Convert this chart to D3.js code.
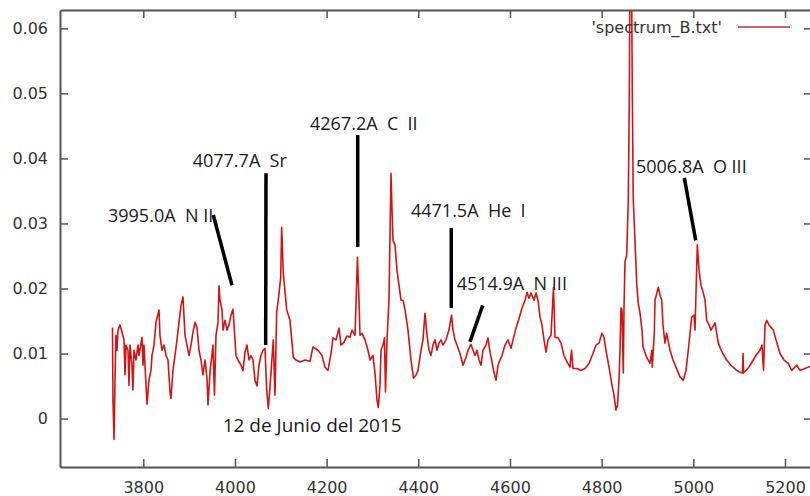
<!DOCTYPE html>
<html>
<head>
<meta charset="utf-8">
<script src="https://cdn.jsdelivr.net/npm/d3@7"></script>
<style>
body { margin: 0; background: #fff; }
svg { display: block; }
</style>
</head>
<body>
<svg id="chart" width="810" height="496"></svg>
<script>
/* spectrum plot, gnuplot look, with hand drawn line marks */

// wavelength (A), flux
var spectrum = [
  [3732.8,0.0140],[3733.9,0.0028],[3736.1,-0.0032],[3738.3,0.0059],[3740.4,0.0128],[3742.6,0.0105],
  [3744.8,0.0136],[3749.2,0.0144],[3753.5,0.0133],[3757.9,0.0121],[3760.1,0.0067],[3762.2,0.0113],
  [3766.6,0.0105],[3768.8,0.0051],[3771.0,0.0113],[3775.3,0.0082],[3777.5,0.0044],[3779.7,0.0105],
  [3784.1,0.0090],[3788.4,0.0113],[3790.6,0.0097],[3797.2,0.0125],[3799.3,0.0082],[3801.5,0.0113],
  [3805.9,0.0051],[3808.1,0.0022],[3812.4,0.0059],[3816.8,0.0074],[3819.0,0.0097],[3823.3,0.0113],
  [3827.7,0.0148],[3834.3,0.0167],[3836.4,0.0128],[3840.8,0.0105],[3845.2,0.0113],[3849.5,0.0097],
  [3853.9,0.0090],[3858.3,0.0041],[3860.4,0.0031],[3864.8,0.0074],[3869.2,0.0097],[3873.5,0.0121],
  [3877.9,0.0148],[3882.3,0.0174],[3886.6,0.0187],[3891.0,0.0128],[3895.3,0.0113],[3899.7,0.0097],
  [3904.1,0.0113],[3908.4,0.0133],[3912.8,0.0148],[3917.2,0.0140],[3921.5,0.0105],[3925.9,0.0090],
  [3930.2,0.0067],[3934.6,0.0090],[3939.0,0.0062],[3941.2,0.0021],[3945.5,0.0071],[3952.1,0.0113],
  [3955.3,0.0036],[3958.6,0.0128],[3963.0,0.0148],[3965.2,0.0204],[3967.3,0.0182],[3971.7,0.0167],
  [3973.9,0.0136],[3978.2,0.0151],[3982.6,0.0136],[3987.0,0.0144],[3991.3,0.0159],[3995.7,0.0168],
  [4000.1,0.0121],[4002.2,0.0097],[4006.6,0.0090],[4013.2,0.0082],[4017.5,0.0074],[4021.9,0.0102],
  [4026.2,0.0113],[4030.6,0.0090],[4035.0,0.0097],[4039.3,0.0090],[4043.7,0.0059],[4048.1,0.0050],
  [4052.4,0.0082],[4056.8,0.0097],[4061.2,0.0105],[4065.5,0.0108],[4069.2,0.0044],[4072.7,0.0016],
  [4076.4,0.0048],[4083.6,0.0121],[4087.3,0.0036],[4091.0,0.0164],[4094.5,0.0182],[4099.8,0.0217],
  [4101.9,0.0294],[4105.4,0.0224],[4112.9,0.0167],[4120.1,0.0151],[4127.3,0.0094],[4133.1,0.0090],
  [4141.9,0.0087],[4152.8,0.0090],[4163.7,0.0088],[4170.2,0.0110],[4181.1,0.0105],[4189.9,0.0097],
  [4196.4,0.0079],[4203.0,0.0074],[4209.5,0.0100],[4213.9,0.0124],[4220.4,0.0121],[4227.0,0.0139],
  [4231.3,0.0113],[4237.9,0.0117],[4244.4,0.0127],[4251.0,0.0125],[4255.3,0.0136],[4261.9,0.0128],
  [4267.3,0.0248],[4270.6,0.0182],[4272.8,0.0128],[4277.1,0.0131],[4283.7,0.0121],[4290.2,0.0105],
  [4294.6,0.0090],[4301.1,0.0097],[4305.5,0.0070],[4309.9,0.0028],[4312.7,0.0017],[4316.4,0.0051],
  [4318.6,0.0105],[4323.0,0.0113],[4326.2,0.0124],[4328.4,0.0041],[4331.7,0.0121],[4336.0,0.0182],
  [4340.4,0.0377],[4342.6,0.0321],[4344.8,0.0274],[4349.1,0.0267],[4353.5,0.0228],[4357.9,0.0205],
  [4362.2,0.0182],[4366.6,0.0182],[4371.0,0.0167],[4377.5,0.0136],[4384.0,0.0090],[4389.5,0.0062],
  [4395.0,0.0067],[4399.3,0.0074],[4405.9,0.0105],[4410.2,0.0121],[4414.6,0.0162],[4419.0,0.0128],
  [4423.3,0.0105],[4427.7,0.0097],[4432.0,0.0113],[4436.4,0.0121],[4440.8,0.0105],[4445.1,0.0116],
  [4449.5,0.0121],[4453.9,0.0113],[4460.4,0.0121],[4466.9,0.0136],[4472.4,0.0159],[4475.7,0.0136],
  [4480.0,0.0121],[4484.4,0.0113],[4490.9,0.0100],[4497.5,0.0082],[4504.0,0.0094],[4508.4,0.0105],
  [4514.9,0.0114],[4519.3,0.0105],[4523.7,0.0097],[4528.0,0.0105],[4532.4,0.0090],[4536.8,0.0082],
  [4541.1,0.0105],[4547.7,0.0113],[4552.0,0.0124],[4556.4,0.0102],[4560.8,0.0087],[4565.1,0.0071],
  [4569.5,0.0059],[4573.9,0.0082],[4578.2,0.0090],[4582.6,0.0097],[4589.1,0.0113],[4595.7,0.0121],
  [4602.2,0.0108],[4606.6,0.0121],[4613.1,0.0139],[4619.7,0.0154],[4626.2,0.0170],[4632.8,0.0182],
  [4637.1,0.0194],[4641.5,0.0185],[4645.8,0.0193],[4652.4,0.0182],[4656.8,0.0193],[4661.1,0.0182],
  [4665.5,0.0156],[4669.8,0.0144],[4674.2,0.0121],[4678.6,0.0102],[4682.9,0.0121],[4689.5,0.0128],
  [4694.9,0.0202],[4698.2,0.0125],[4704.8,0.0124],[4711.3,0.0116],[4717.8,0.0097],[4724.4,0.0087],
  [4730.9,0.0079],[4734.2,0.0105],[4737.5,0.0077],[4746.2,0.0077],[4754.9,0.0074],[4763.7,0.0077],
  [4772.4,0.0085],[4781.1,0.0100],[4787.7,0.0113],[4794.2,0.0116],[4800.7,0.0131],[4805.1,0.0125],
  [4809.5,0.0105],[4816.0,0.0079],[4822.6,0.0051],[4826.9,0.0036],[4831.3,0.0013],[4834.6,0.0020],
  [4837.8,0.0059],[4840.0,0.0105],[4842.2,0.0170],[4844.4,0.0167],[4847.2,0.0070],[4848.7,0.0167],
  [4850.9,0.0241],[4854.6,0.0251],[4858.1,0.0336],[4860.3,0.0490],[4861.8,0.0700],[4865.1,0.0690],
  [4866.9,0.0494],[4869.0,0.0336],[4872.7,0.0274],[4876.4,0.0208],[4879.9,0.0177],[4883.7,0.0162],
  [4888.0,0.0136],[4890.2,0.0110],[4898.3,0.0094],[4905.5,0.0085],[4909.2,0.0105],[4910.5,0.0079],
  [4914.8,0.0131],[4916.4,0.0182],[4923.6,0.0202],[4927.3,0.0190],[4931.0,0.0182],[4933.8,0.0144],
  [4938.2,0.0116],[4941.9,0.0131],[4944.7,0.0121],[4949.1,0.0105],[4955.6,0.0090],[4962.2,0.0079],
  [4970.9,0.0064],[4978.1,0.0059],[4984.0,0.0074],[4989.0,0.0105],[4996.4,0.0156],[5001.5,0.0159],
  [5003.6,0.0136],[5008.7,0.0267],[5012.4,0.0228],[5016.7,0.0205],[5021.8,0.0193],[5025.5,0.0182],
  [5029.2,0.0151],[5034.2,0.0144],[5038.6,0.0136],[5047.3,0.0147],[5054.5,0.0116],[5062.6,0.0102],
  [5072.8,0.0090],[5082.2,0.0082],[5094.6,0.0074],[5101.8,0.0071],[5107.3,0.0070],[5108.4,0.0100],
  [5109.5,0.0070],[5119.3,0.0077],[5130.8,0.0090],[5136.7,0.0097],[5145.5,0.0105],[5149.8,0.0113],
  [5153.1,0.0074],[5156.4,0.0144],[5160.1,0.0151],[5165.1,0.0144],[5174.5,0.0136],[5180.4,0.0121],
  [5189.1,0.0100],[5197.8,0.0090],[5207.2,0.0085],[5214.6,0.0074],[5225.5,0.0082],[5232.7,0.0074],
  [5243.6,0.0077],[5254.5,0.0080],[5265.5,0.0077]
];

var xTicks = [3800, 4000, 4200, 4400, 4600, 4800, 5000, 5200];
var yTicks = [0, 0.01, 0.02, 0.03, 0.04, 0.05, 0.06];
var yTickLabels = ["0", "0.01", "0.02", "0.03", "0.04", "0.05", "0.06"];
var seriesName = "'spectrum_B.txt'";

// line labels: text at (tx,ty), marker from (x1,y1) to (x2,y2), all in data units
var marks = [
  {label: "3995.0A  N II",  tx: 3723.0, ty: 0.0302, x1: 3952.7, y1: 0.0313, x2: 3993.5, y2: 0.0205},
  {label: "4077.7A  Sr",    tx: 3907.8, ty: 0.0387, x1: 4067.7, y1: 0.0377, x2: 4067.0, y2: 0.0113},
  {label: "4267.2A  C  II", tx: 4163.7, ty: 0.0444, x1: 4267.8, y1: 0.0436, x2: 4267.8, y2: 0.0264},
  {label: "4471.5A  He  I", tx: 4384.0, ty: 0.0310, x1: 4471.9, y1: 0.0293, x2: 4471.9, y2: 0.0170},
  {label: "4514.9A  N III", tx: 4483.7, ty: 0.0197, x1: 4540.5, y1: 0.0174, x2: 4512.7, y2: 0.0118},
  {label: "5006.8A  O III", tx: 4874.9, ty: 0.0377, x1: 4980.3, y1: 0.0370, x2: 5005.2, y2: 0.0274}
];
var dateNote = {text: "12 de Junio del 2015", x: 3973.2, y: -0.0021};

var padL = 60, padR = 812, padT = 10, padB = 467;

var svg = d3.select("#chart");

var x = d3.scaleLinear().domain([3618.3, 5258.9]).range([padL, padR]);
var y = d3.scaleLinear().domain([-0.00745, 0.06282]).range([padB, padT]);

svg.append("defs").append("clipPath").attr("id", "plotclip")
  .append("rect")
  .attr("x", padL).attr("y", padT)
  .attr("width", padR - padL).attr("height", padB - padT);

// frame with inward ticks on all four sides
var axes = [
  {ax: d3.axisBottom(x).tickValues(xTicks).tickFormat(d3.format("d")).tickPadding(15), at: "translate(0," + padB + ")"},
  {ax: d3.axisTop(x).tickValues(xTicks).tickFormat(""), at: "translate(0," + padT + ")"},
  {ax: d3.axisLeft(y).tickValues(yTicks).tickFormat(function(d, i){ return yTickLabels[i]; }).tickPadding(12), at: "translate(" + padL + ",0)"},
  {ax: d3.axisRight(y).tickValues(yTicks).tickFormat(""), at: "translate(" + padR + ",0)"}
];
axes.forEach(function(a){
  var g = svg.append("g")
    .attr("transform", a.at)
    .call(a.ax.tickSizeInner(-8).tickSizeOuter(0));
  g.select(".domain").attr("stroke", "#555").attr("stroke-width", 2);
  g.selectAll(".tick line").attr("stroke", "#555").attr("stroke-width", 1.5);
  g.selectAll(".tick text")
    .attr("fill", "#333")
    .style("font-family", "'DejaVu Sans', sans-serif")
    .style("font-size", "16px");
});

var line = d3.line()
  .x(function(d){ return x(d[0]); })
  .y(function(d){ return y(d[1]); });

svg.append("path")
  .datum(spectrum)
  .attr("clip-path", "url(#plotclip)")
  .attr("d", line)
  .attr("fill", "none")
  .attr("stroke", "#d41414")
  .attr("stroke-width", 1.6)
  .attr("stroke-linejoin", "round");

// key
svg.append("text")
  .attr("x", 722).attr("y", 33)
  .attr("text-anchor", "end")
  .attr("fill", "#333")
  .style("font-family", "'DejaVu Sans', sans-serif")
  .style("font-size", "16px")
  .text(seriesName);
svg.append("line")
  .attr("x1", 738).attr("x2", 790).attr("y1", 27).attr("y2", 27)
  .attr("stroke", "#c03030").attr("stroke-width", 1.5);

// markers
svg.selectAll("line.mark")
  .data(marks).enter().append("line")
  .attr("class", "mark")
  .attr("x1", function(d){ return x(d.x1); })
  .attr("y1", function(d){ return y(d.y1); })
  .attr("x2", function(d){ return x(d.x2); })
  .attr("y2", function(d){ return y(d.y2); })
  .attr("stroke", "#000")
  .attr("stroke-width", 3.5);

svg.selectAll("text.mark")
  .data(marks).enter().append("text")
  .attr("class", "mark")
  .attr("x", function(d){ return x(d.tx); })
  .attr("y", function(d){ return y(d.ty); })
  .attr("fill", "#1a1a1a")
  .style("white-space", "pre")
  .style("font-family", "'Open Sans', sans-serif")
  .style("font-size", "18px")
  .text(function(d){ return d.label; });

svg.append("text")
  .attr("x", x(dateNote.x))
  .attr("y", y(dateNote.y))
  .attr("fill", "#1a1a1a")
  .style("font-family", "'Open Sans', sans-serif")
  .style("font-size", "19px")
  .text(dateNote.text);
</script>
</body>
</html>
